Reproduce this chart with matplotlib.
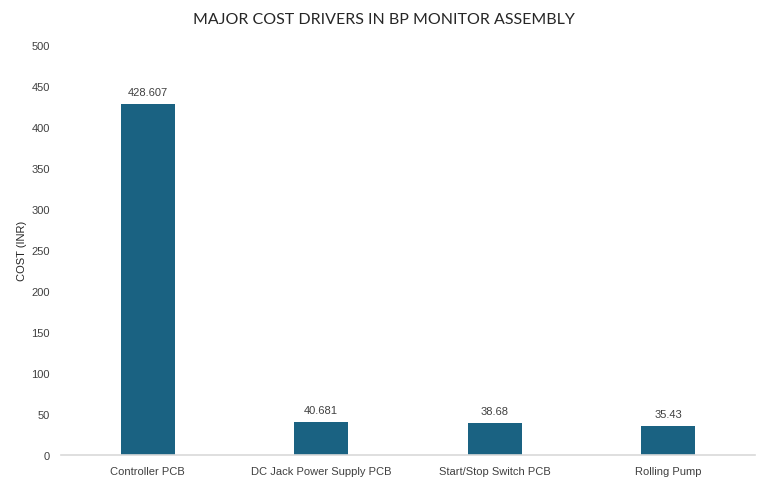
import matplotlib
matplotlib.use("Agg")
import matplotlib.pyplot as plt

categories = ["Controller PCB", "DC Jack Power Supply PCB", "Start/Stop Switch PCB", "Rolling Pump"]
costs = [428.607, 40.681, 38.68, 35.43]
labels = ["428.607", "40.681", "38.68", "35.43"]
yticks = [0, 50, 100, 150, 200, 250, 300, 350, 400, 450, 500]

fig = plt.figure(figsize=(7.68, 4.85), dpi=100)
ax = fig.add_axes([0.0794, 0.0598, 0.9036, 0.8454])
x = range(len(categories))
bars = ax.bar(x, costs, width=0.31, color="#1a6282")
for b, l in zip(bars, labels):
    ax.annotate(l, (b.get_x() + b.get_width() / 2, b.get_height()), xytext=(0, 5),
                textcoords="offset points", ha="center", va="bottom", fontsize=8,
                family="Liberation Sans", color="#404040")
ax.set_xlim(-0.5, len(categories) - 0.5)
ax.set_ylim(0, 500)
ax.set_yticks(yticks)
ax.set_xticks(list(x))
ax.set_xticklabels(categories, fontsize=8, family="Liberation Sans", color="#404040")
for t in ax.get_yticklabels():
    t.set_fontsize(8); t.set_family("Liberation Sans"); t.set_color("#404040")
ax.tick_params(length=0, pad=8)
for s in ["top", "right", "left"]:
    ax.spines[s].set_visible(False)
ax.spines["bottom"].set_color("#d9d9d9")
ax.spines["bottom"].set_linewidth(1.2)
ax.set_ylabel("COST (INR)", fontsize=8, family="Liberation Sans", color="#262626", labelpad=0)
ax.yaxis.set_label_coords(-0.049, 0.5)
fig.text(0.5, 0.958, "MAJOR COST DRIVERS IN BP MONITOR ASSEMBLY", ha="center", va="center",
         fontsize=11.5, family="Lato", color="#262626")
fig.savefig("out.png", dpi=100)
